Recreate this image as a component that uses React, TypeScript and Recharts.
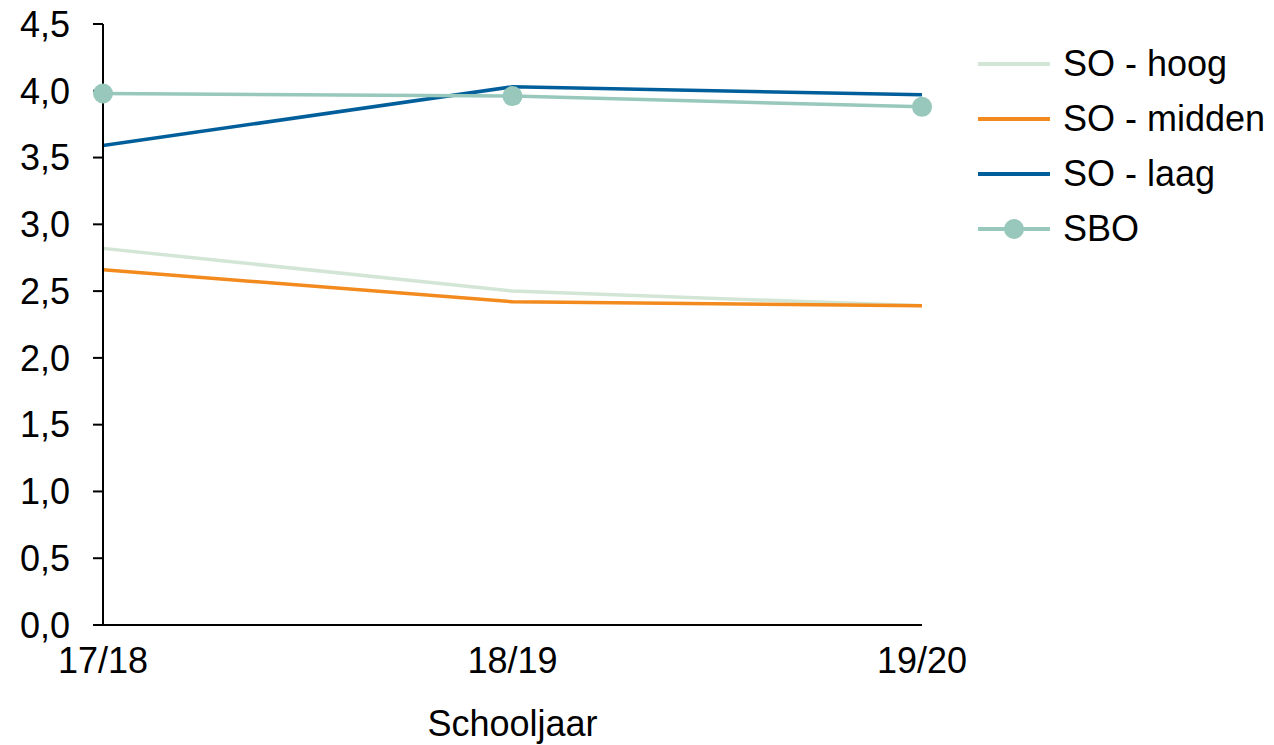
import {
  CartesianGrid,
  Legend,
  Line,
  LineChart,
  XAxis,
  YAxis,
} from "recharts";

const years = ["17/18", "18/19", "19/20"];
const soHoog = [2.82, 2.5, 2.39];
const soMidden = [2.66, 2.42, 2.39];
const soLaag = [3.59, 4.03, 3.97];
const sbo = [3.98, 3.96, 3.88];
const yTicks = [0, 0.5, 1, 1.5, 2, 2.5, 3, 3.5, 4, 4.5];

const series = [
  { key: "hoog", name: "SO - hoog", color: "#D3E6D6", dot: false },
  { key: "midden", name: "SO - midden", color: "#F28A1E", dot: false },
  { key: "laag", name: "SO - laag", color: "#005F9B", dot: false },
  { key: "sbo", name: "SBO", color: "#97C8BB", dot: true },
];

const data = years.map((year, i) => ({
  year,
  hoog: soHoog[i],
  midden: soMidden[i],
  laag: soLaag[i],
  sbo: sbo[i],
}));

const font = "'Liberation Sans', Arial, sans-serif";

function ChartLegend() {
  return (
    <div style={{ fontFamily: font, fontSize: 36, color: "#000" }}>
      {series.map((s) => (
        <div
          key={s.key}
          style={{ display: "flex", alignItems: "center", height: 55 }}
        >
          <svg width={72} height={24} style={{ marginRight: 13 }}>
            <line x1={0} y1={12} x2={72} y2={12} stroke={s.color} strokeWidth={4} />
            {s.dot && <circle cx={36} cy={12} r={10} fill={s.color} />}
          </svg>
          <span>{s.name}</span>
        </div>
      ))}
    </div>
  );
}

export default function App() {
  return (
    <div style={{ width: 1274, height: 745, fontFamily: font }}>
      <style>{`body { margin: 0; overflow: hidden; }`}</style>
      <LineChart
        width={1274}
        height={745}
        data={data}
        margin={{ top: 24, right: 352, bottom: 0, left: 0 }}
      >
        <CartesianGrid stroke="none" />
        <XAxis
          dataKey="year"
          tickLine={false}
          tickSize={0}
          tickMargin={22}
          axisLine={{ stroke: "#000", strokeWidth: 2 }}
          tick={{ fill: "#000", fontSize: 36, fontFamily: font }}
          height={120}
          label={{
            value: "Schooljaar",
            position: "insideBottom",
            offset: 9,
            fill: "#000",
            fontSize: 36,
            fontFamily: font,
          }}
        />
        <YAxis
          domain={[0, 4.5]}
          ticks={yTicks}
          interval={0}
          width={103}
          tickSize={10}
          tickMargin={23}
          axisLine={{ stroke: "#000", strokeWidth: 2 }}
          tickLine={{ stroke: "#000", strokeWidth: 2 }}
          tick={{ fill: "#000", fontSize: 36, fontFamily: font }}
          tickFormatter={(v: number) => v.toFixed(1).replace(".", ",")}
        />
        <Legend
          layout="vertical"
          align="center"
          verticalAlign="middle"
          wrapperStyle={{ left: 978, top: 36, width: 296, height: 230 }}
          content={() => <ChartLegend />}
        />
        {series.map((s) => (
          <Line
            key={s.key}
            type="linear"
            dataKey={s.key}
            name={s.name}
            stroke={s.color}
            strokeWidth={3.5}
            dot={s.dot ? { r: 10, fill: s.color, stroke: "none" } : false}
            activeDot={false}
            isAnimationActive={false}
          />
        ))}
      </LineChart>
    </div>
  );
}
